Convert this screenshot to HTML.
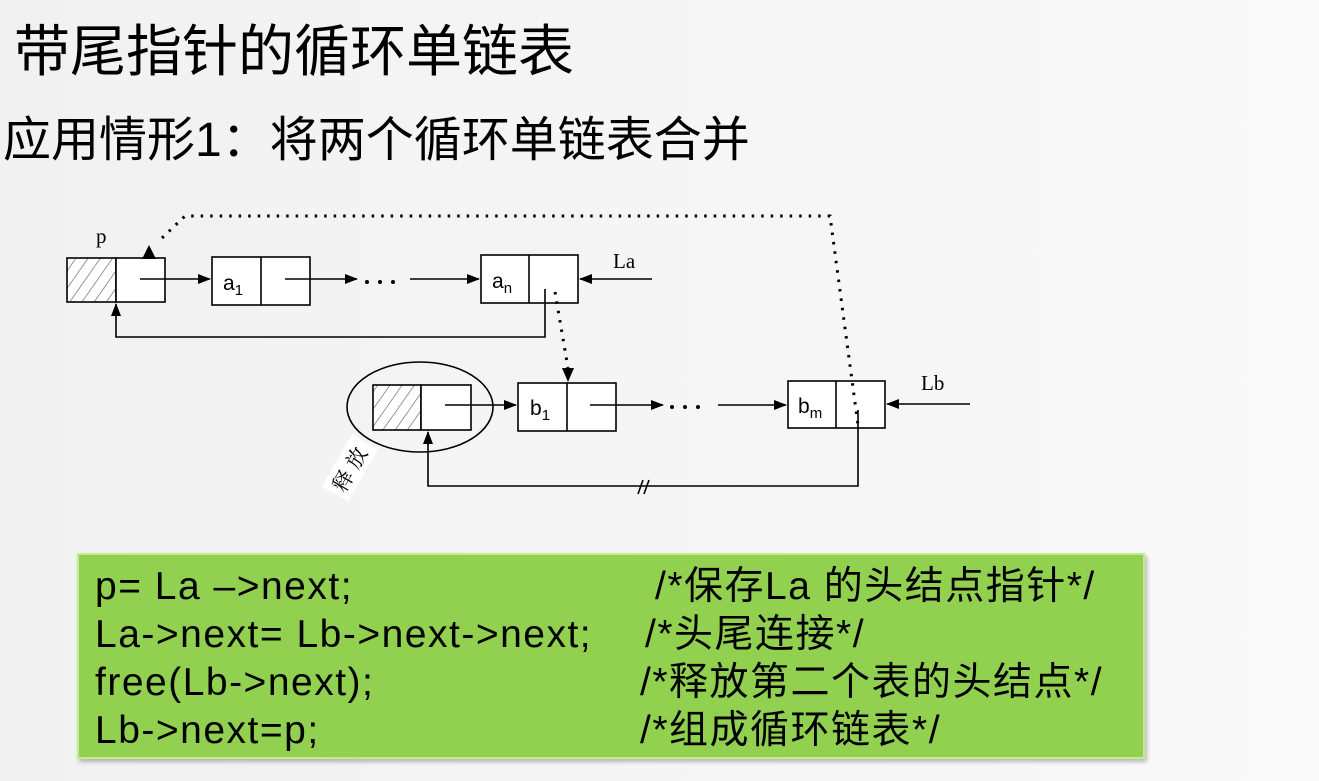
<!DOCTYPE html>
<html><head><meta charset="utf-8"><style>
html,body{margin:0;padding:0}
body{width:1319px;height:781px;position:relative;overflow:hidden;background:linear-gradient(90deg,#f1f1f1,#f6f6f6 60%,#f9f9f9);font-family:"Liberation Sans","Noto Sans CJK SC",sans-serif;}
.t{position:absolute;white-space:nowrap;color:#000;line-height:1;}
#code{position:absolute;left:77px;top:553px;width:1064px;height:202px;background:#92d050;border:2px solid #c4ec8c;box-shadow:2px 3px 4px rgba(0,0,0,.25);}
.l{position:absolute;left:16px;height:48px;line-height:48px;font-size:39px;letter-spacing:1.5px;white-space:nowrap;}
.l span{position:absolute;top:0;}
</style></head><body>
<div class="t" style="left:14px;top:24px;font-size:56px;">带尾指针的循环单链表</div>
<div class="t" style="left:3px;top:117px;font-size:48px;">应用情形1：将两个循环单链表合并</div>

<svg width="1319" height="781" style="position:absolute;left:0;top:0" xmlns="http://www.w3.org/2000/svg">
<defs>
<pattern id="h" width="10" height="10" patternUnits="userSpaceOnUse" patternTransform="rotate(35)"><rect width="10" height="10" fill="#fff"/><line x1="0" y1="0" x2="0" y2="10" stroke="#555" stroke-width="1.2"/></pattern>
<marker id="a" markerWidth="13" markerHeight="10" refX="12" refY="5" orient="auto" markerUnits="userSpaceOnUse"><path d="M0,0 L13,5 L0,10z" fill="#000"/></marker>
</defs>
<g stroke="#000" stroke-width="1.6" fill="#fff">
<rect x="67" y="258" width="49" height="44" fill="url(#h)"/>
<rect x="116" y="258" width="49" height="44"/>
<rect x="212" y="257" width="98" height="48"/><line x1="261" y1="257" x2="261" y2="305"/>
<rect x="481" y="255" width="97" height="48"/><line x1="529" y1="255" x2="529" y2="303"/>
<ellipse cx="420" cy="407" rx="73" ry="45" fill="none"/>
<rect x="373" y="385" width="48" height="45" fill="url(#h)"/>
<rect x="421" y="385" width="50" height="45"/>
<rect x="518" y="383" width="98" height="48"/><line x1="567" y1="383" x2="567" y2="431"/>
<rect x="788" y="381" width="97" height="47"/><line x1="836" y1="381" x2="836" y2="428"/>
</g>
<g stroke="#000" stroke-width="1.6" fill="none">
<line x1="140" y1="279" x2="210" y2="279" marker-end="url(#a)"/>
<line x1="285" y1="279" x2="357" y2="279" marker-end="url(#a)"/>
<line x1="410" y1="279" x2="479" y2="279" marker-end="url(#a)"/>
<line x1="652" y1="279" x2="580" y2="279" marker-end="url(#a)"/>
<polyline points="545,289 545,337 116,337 116,304" marker-end="url(#a)"/>
<line x1="445" y1="405" x2="516" y2="405" marker-end="url(#a)"/>
<line x1="590" y1="405" x2="663" y2="405" marker-end="url(#a)"/>
<line x1="718" y1="405" x2="786" y2="405" marker-end="url(#a)"/>
<line x1="970" y1="404" x2="887" y2="404" marker-end="url(#a)"/>
<polyline points="858,410 858,486 428,486 428,432" marker-end="url(#a)"/>
<line x1="638" y1="494" x2="643" y2="480"/><line x1="644" y1="494" x2="649" y2="480"/>
</g>
<g stroke="#000" stroke-width="3" fill="none" stroke-dasharray="2.5 7">
<polyline points="555,292 568,368"/>
<polyline points="162,238 185,216 830,216 858,425"/>
</g>
<path d="M562,368 L574,368 L568,382z" fill="#000"/>
<path d="M142,259 L156,259 L149,245z" fill="#000"/>
<g fill="#000">
<circle cx="367" cy="282" r="2"/><circle cx="380" cy="282" r="2"/><circle cx="393" cy="282" r="2"/>
<circle cx="672" cy="407" r="2"/><circle cx="685" cy="407" r="2"/><circle cx="698" cy="407" r="2"/>
</g>
<g font-family="Liberation Sans" font-size="21" fill="#000">
<text x="223" y="290">a<tspan font-size="15" dy="5">1</tspan></text>
<text x="492" y="288">a<tspan font-size="15" dy="5">n</tspan></text>
<text x="530" y="415">b<tspan font-size="15" dy="5">1</tspan></text>
<text x="798" y="413">b<tspan font-size="15" dy="5">m</tspan></text>
</g>
<g font-family="Liberation Serif" font-size="21" fill="#000">
<text x="96" y="243">p</text>
<text x="613" y="268">La</text>
<text x="921" y="390">Lb</text>
</g>
<g transform="translate(350,468) rotate(-60)">
<rect x="-30" y="-15" width="60" height="30" fill="#fff"/>
<text x="-25" y="8" font-size="21" font-family="Noto Serif CJK SC,serif" fill="#000">释 放</text>
</g>
</svg>

<div id="code">
<div class="l" style="top:8px;">p= La –&gt;next;<span style="left:560px;">/*保存La 的头结点指针*/</span></div>
<div class="l" style="top:56px;">La-&gt;next= Lb-&gt;next-&gt;next;<span style="left:550px;">/*头尾连接*/</span></div>
<div class="l" style="top:104px;">free(Lb-&gt;next);<span style="left:545px;">/*释放第二个表的头结点*/</span></div>
<div class="l" style="top:152px;">Lb-&gt;next=p;<span style="left:545px;">/*组成循环链表*/</span></div>
</div>
</body></html>
